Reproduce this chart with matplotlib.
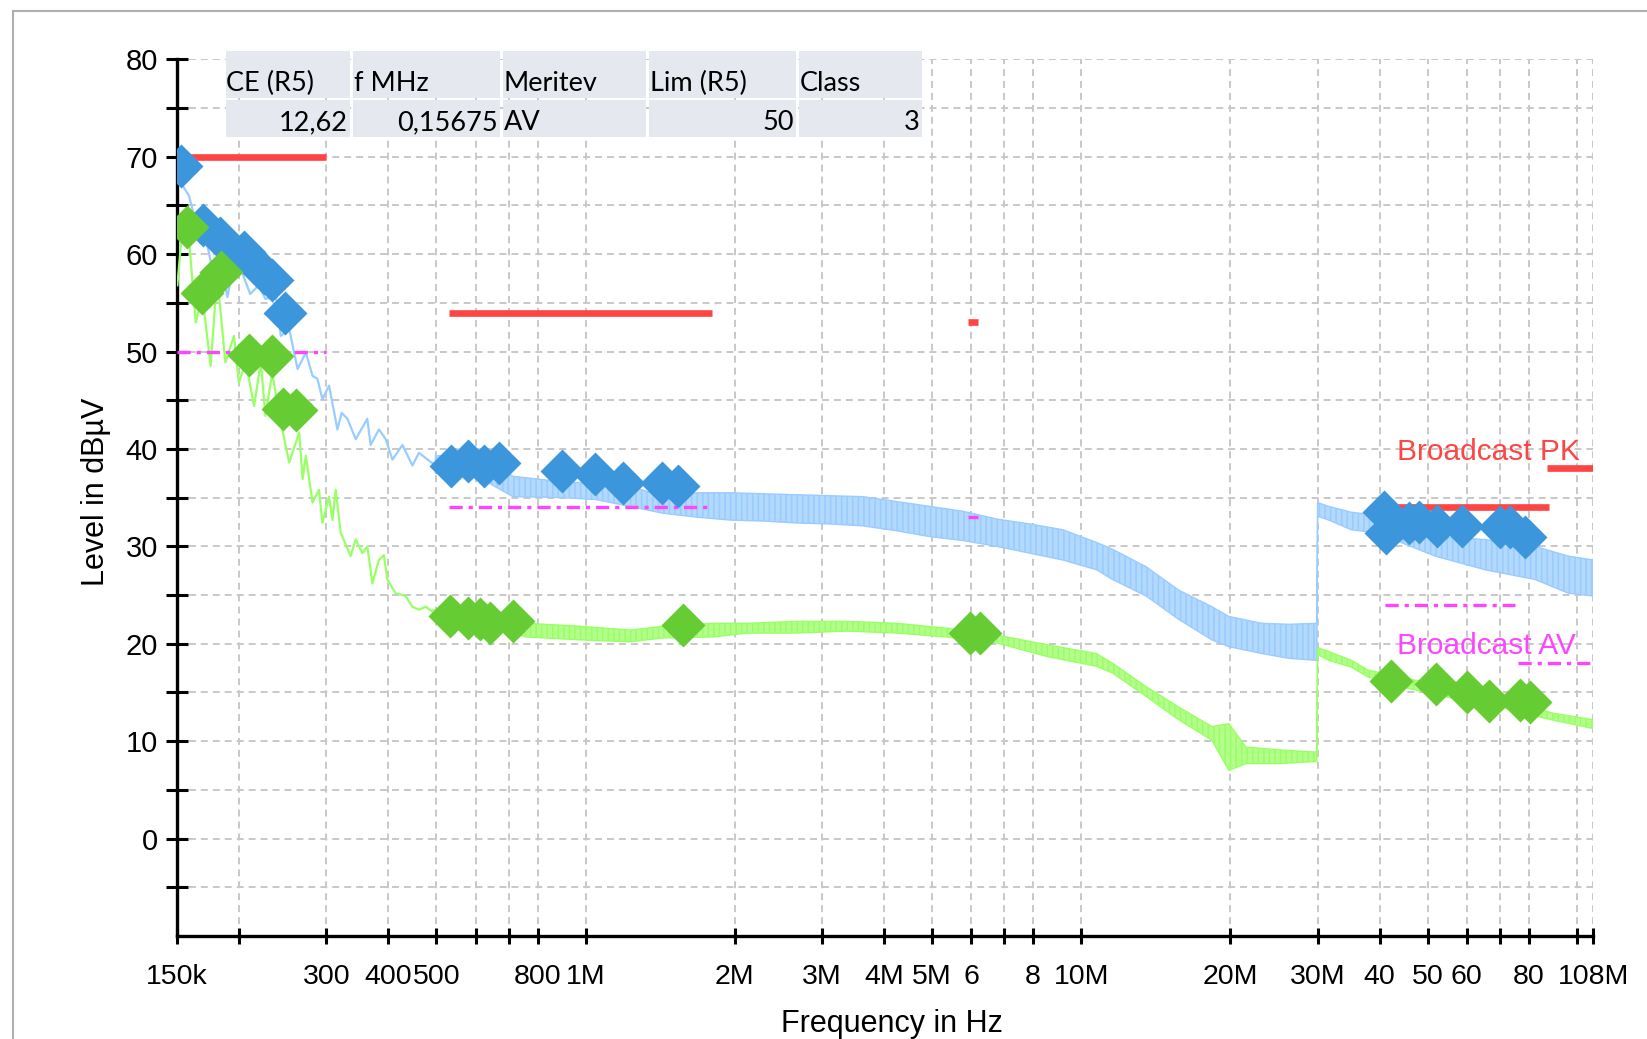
import matplotlib
matplotlib.use("Agg")
import matplotlib.pyplot as plt
from matplotlib.patches import Rectangle
from matplotlib.ticker import FixedLocator, FixedFormatter

plt.rcParams['font.family'] = ['Liberation Sans', 'DejaVu Sans']
plt.rcParams['lines.scale_dashes'] = False
plt.rcParams['hatch.linewidth'] = 1.2

W, H = 1647, 1039

# ---- data (frequencies in MHz, levels in dBuV) ----
pk_spiky_f = [0.151, 0.1584, 0.1635, 0.1713, 0.1766, 0.1821, 0.1894, 0.1953, 0.2028, 0.2106,
              0.219, 0.226, 0.2373, 0.2428, 0.2524, 0.2624, 0.2727, 0.2813, 0.2878, 0.2945,
              0.3037, 0.3158, 0.322, 0.3308, 0.3438, 0.3628, 0.3684, 0.3829, 0.3952, 0.4077,
              0.4271, 0.4474, 0.4612, 0.4832, 0.4984]
pk_spiky_v = [67.7, 66.0, 63.3, 61.6, 58.5, 59.9, 55.6, 59.2, 58.1, 55.9,
              56.8, 55.4, 55.7, 51.6, 52.3, 48.2, 49.9, 47.5, 47.2, 45.1,
              46.5, 42.0, 43.7, 43.1, 41.0, 43.1, 40.4, 42.0, 41.0, 38.9,
              40.4, 38.3, 39.6, 38.8, 38.3]

pk_band_f = [0.498, 0.534, 0.613, 0.714, 0.901, 1.051, 1.229, 1.434, 1.677, 1.957,
             2.283, 2.67, 3.112, 3.63, 4.246, 4.953, 5.778, 6.76, 7.88, 9.19,
             10.74, 11.57, 13.53, 15.74, 18.36, 19.87, 23.17, 26.26, 29.9, 30.0,
             31.6, 35.1, 37.9, 41.3, 51.8, 65.3, 82.4, 96.1, 108]
pk_band_lo = [37.5, 37.3, 37.0, 35.1, 35.0, 34.8, 34.1, 33.4, 33.0, 32.7,
              32.6, 32.4, 32.3, 32.1, 31.6, 31.0, 30.6, 30.0, 29.3, 28.6,
              27.6, 26.6, 24.9, 22.5, 20.4, 19.7, 19.0, 18.5, 18.3, 33.1,
              32.7, 31.7, 31.5, 31.0, 29.0, 27.6, 26.6, 25.2, 24.9]
pk_band_hi = [39.3, 39.3, 39.0, 37.2, 36.6, 36.5, 36.2, 35.1, 35.5, 35.5,
              35.4, 35.3, 35.2, 35.1, 34.6, 34.1, 33.6, 32.8, 32.3, 31.7,
              30.4, 29.7, 27.9, 25.5, 23.8, 22.8, 22.1, 22.0, 22.1, 34.5,
              34.1, 33.5, 33.3, 33.0, 31.0, 30.7, 30.0, 29.0, 28.6]

av_spiky_f = [0.1501, 0.1536, 0.1584, 0.1635, 0.1686, 0.1752, 0.1806, 0.1876, 0.1953, 0.1997,
              0.2063, 0.2144, 0.2212, 0.226, 0.2332, 0.2428, 0.2524, 0.2644, 0.2686, 0.2727,
              0.2813, 0.2899, 0.2945, 0.3037, 0.3086, 0.3133, 0.3206, 0.3358, 0.3438, 0.3545,
              0.3628, 0.3715, 0.3829, 0.3919, 0.3981, 0.4138, 0.4334, 0.4474, 0.4612, 0.4758,
              0.4909]
av_spiky_v = [56.8, 62.6, 61.6, 53.0, 55.7, 48.5, 57.8, 48.9, 51.6, 46.8,
              48.9, 44.4, 48.9, 43.4, 47.8, 42.7, 38.6, 41.7, 36.9, 39.3,
              34.5, 35.8, 32.4, 35.1, 32.7, 35.8, 31.4, 29.0, 30.7, 29.3,
              30.0, 26.2, 28.6, 29.1, 26.6, 25.2, 24.9, 23.8, 23.5, 23.8,
              23.3]

av_band_f = [0.491, 0.53, 0.583, 0.625, 0.718, 0.760, 0.975, 1.229, 1.434, 1.808,
             2.118, 2.66, 3.36, 4.24, 5.36, 6.75, 8.52, 10.73, 11.57, 13.52,
             15.74, 18.36, 19.87, 21.5, 25.1, 29.3, 29.9, 30.0, 31.6, 35.1,
             37.9, 45.0, 55.0, 70.0, 88.9, 108]
av_band_lo = [22.6, 22.2, 21.8, 21.5, 21.0, 20.7, 20.4, 20.2, 20.6, 20.7,
              21.1, 21.1, 21.3, 21.1, 20.7, 20.1, 18.7, 17.7, 17.0, 14.6,
              12.2, 10.1, 7.0, 7.7, 7.7, 7.9, 7.9, 18.9, 18.3, 17.6,
              16.6, 15.5, 14.5, 13.5, 12.2, 11.3]
av_band_hi = [23.5, 23.2, 22.8, 22.5, 22.2, 22.1, 21.8, 21.4, 21.8, 22.1,
              22.1, 22.3, 22.3, 22.1, 21.6, 20.9, 19.9, 19.0, 18.0, 15.6,
              13.5, 11.5, 11.8, 9.4, 9.1, 8.9, 8.9, 19.6, 19.2, 18.3,
              17.3, 16.5, 15.5, 14.5, 12.9, 12.2]

pk_mark_f = [0.153, 0.1694, 0.183, 0.205, 0.224, 0.233, 0.247,
             0.536, 0.580, 0.625, 0.670, 0.896, 1.046, 1.192, 1.424, 1.539,
             40.8, 41.2, 45.8, 48.0, 52.2, 58.6, 69.9, 73.2, 78.5]
pk_mark_v = [69.0, 63.0, 61.7, 60.2, 58.1, 57.3, 54.0,
             38.2, 38.8, 38.3, 38.6, 37.7, 37.4, 36.5, 36.5, 36.2,
             33.5, 31.4, 32.4, 32.5, 32.1, 32.1, 32.0, 32.0, 31.0]

av_mark_f = [0.1567, 0.1686, 0.1835, 0.209, 0.2325, 0.2455, 0.261,
             0.5336, 0.5794, 0.613, 0.642, 0.714, 1.573, 5.956, 6.24,
             42.1, 51.9, 60.0, 66.4, 76.7, 80.4]
av_mark_v = [62.8, 56.0, 58.2, 49.6, 49.5, 44.1, 44.0,
             22.8, 22.6, 22.5, 22.1, 22.3, 21.9, 21.1, 21.1,
             16.2, 15.9, 15.0, 14.1, 14.2, 14.0]

# limit segments: (f_start, f_stop, level)
pk_limits = [(0.15, 0.30, 70), (0.53, 1.8, 54), (5.9, 6.2, 53), (41, 88, 34), (87, 108, 38)]
av_limits = [(0.15, 0.30, 50), (0.53, 1.8, 34), (5.9, 6.2, 33), (41, 75, 24), (76, 108, 18)]

x_ticks = [0.15, 0.2, 0.3, 0.4, 0.5, 0.6, 0.7, 0.8, 1, 2, 3, 4, 5, 6, 7, 8, 10,
           20, 30, 40, 50, 60, 70, 80, 100, 108]
x_labels = ['150k', '', '300', '400', '500', '', '', '800', '1M', '2M', '3M', '4M', '5M',
            '6', '', '8', '10M', '20M', '30M', '40', '50', '60', '', '80', '', '108M']
y_ticks = list(range(-5, 81, 5))
y_labels = [str(v) if v % 10 == 0 else '' for v in y_ticks]

table_head = ['CE (R5)', 'f MHz', 'Meritev', 'Lim (R5)', 'Class']
table_row = ['12,62', '0,15675', 'AV', '50', '3']
table_align = ['right', 'right', 'left', 'right', 'right']

# ---- colors ----
c_pk = '#99ccff'
c_av = '#99ff66'
c_pk_mark = '#3c96dc'
c_av_mark = '#66cc33'
c_red = '#ff4444'
c_mag = '#ff44ff'

fig = plt.figure(figsize=(W / 100, H / 100), dpi=100)
ax = fig.add_axes([177.2 / W, 1 - 936 / H, (1593.3 - 177.2) / W, (936 - 59.3) / H])

MHZ = 1e6
ax.plot([f * MHZ for f in pk_spiky_f], pk_spiky_v, color=c_pk, lw=1.6, zorder=2)
ax.fill_between([f * MHZ for f in pk_band_f], pk_band_lo, pk_band_hi,
                facecolor='#b4d9ff', edgecolor=c_pk, hatch='|||', lw=1.0, zorder=2)
ax.plot([f * MHZ for f in av_spiky_f], av_spiky_v, color=c_av, lw=1.6, zorder=3)
ax.fill_between([f * MHZ for f in av_band_f], av_band_lo, av_band_hi,
                facecolor='#b4ff8c', edgecolor=c_av, hatch='|||', lw=1.0, zorder=3)

for f0, f1, lv in pk_limits:
    ax.plot([f0 * MHZ, f1 * MHZ], [lv, lv], color=c_red, lw=4.8,
            solid_capstyle='butt', zorder=4)
for f0, f1, lv in av_limits:
    ax.plot([f0 * MHZ, f1 * MHZ], [lv, lv], color=c_mag, lw=2.4,
            linestyle=(0, (9.5, 4.3, 3.0, 4.3)), dash_capstyle='butt', zorder=4)

ax.plot([f * MHZ for f in pk_mark_f], pk_mark_v, 'D', color=c_pk_mark, ms=22,
        mec='none', zorder=5)
ax.plot([f * MHZ for f in av_mark_f], av_mark_v, 'D', color=c_av_mark, ms=22,
        mec='none', zorder=6)

ax.text(43.4 * MHZ, 39.7, 'Broadcast PK', color=c_red, fontsize=21.5,
        va='center', ha='left', zorder=7)
ax.text(43.4 * MHZ, 19.8, 'Broadcast AV', color=c_mag, fontsize=21.5,
        va='center', ha='left', zorder=7)

ax.set_xscale('log')
ax.set_xlim(0.15 * MHZ, 108 * MHZ)
ax.set_ylim(-10, 80)
ax.xaxis.set_major_locator(FixedLocator([t * MHZ for t in x_ticks]))
ax.xaxis.set_major_formatter(FixedFormatter(x_labels))
ax.xaxis.set_minor_locator(FixedLocator([]))
ax.yaxis.set_major_locator(FixedLocator(y_ticks))
ax.yaxis.set_major_formatter(FixedFormatter(y_labels))

for side in ['top', 'right']:
    ax.spines[side].set_visible(False)
for side in ['left', 'bottom']:
    ax.spines[side].set_linewidth(2.4)
ax.tick_params(axis='x', direction='inout', length=12, width=2.2, pad=14, labelsize=20.5)
ax.tick_params(axis='y', direction='inout', length=16, width=2.2, pad=6, labelsize=21)
ax.grid(True, color='#c8c8c8', linestyle=(0, (5, 3.6)), linewidth=1.4)
ax.set_axisbelow(True)

ax.set_xlabel('Frequency in Hz', fontsize=22)
ax.xaxis.set_label_coords(0.505, -0.083)
ax.set_ylabel('Level in dB\u00b5V', fontsize=22)
ax.yaxis.set_label_coords(-0.047, 0.507)


def fx(px):
    return px / W


def fy(py):
    return 1 - py / H


# results table in the upper left corner
col_edges = [(225.8, 350.0), (353.2, 499.5), (502.5, 646.3), (649.4, 795.5), (798.8, 921.8)]
for (x0, x1), head, val, al in zip(col_edges, table_head, table_row, table_align):
    for (y0, y1) in [(51.0, 97.8), (100.2, 137.0)]:
        fig.add_artist(Rectangle((fx(x0), fy(y1)), fx(x1) - fx(x0), fy(y0) - fy(y1),
                                 transform=fig.transFigure, facecolor='#e6e8f0',
                                 edgecolor='none', zorder=10))
    fig.text(fx(x0 + 0.5), fy(91), head, fontsize=19.5, family='Lato',
             ha='left', va='baseline', zorder=11)
    if al == 'right':
        fig.text(fx(x1 - 2), fy(130.5), val, fontsize=19.5, family='Lato',
                 ha='right', va='baseline', zorder=11)
    else:
        fig.text(fx(x0 + 1), fy(130.5), val, fontsize=19.5, family='Lato',
                 ha='left', va='baseline', zorder=11)

# outer frame
fig.add_artist(Rectangle((fx(12.5), -0.2), 1.2, fy(10.5) + 0.2, transform=fig.transFigure,
                         fill=False, edgecolor='#b0b0b0', lw=1.5, zorder=12))

fig.savefig('out.png', dpi=100)
